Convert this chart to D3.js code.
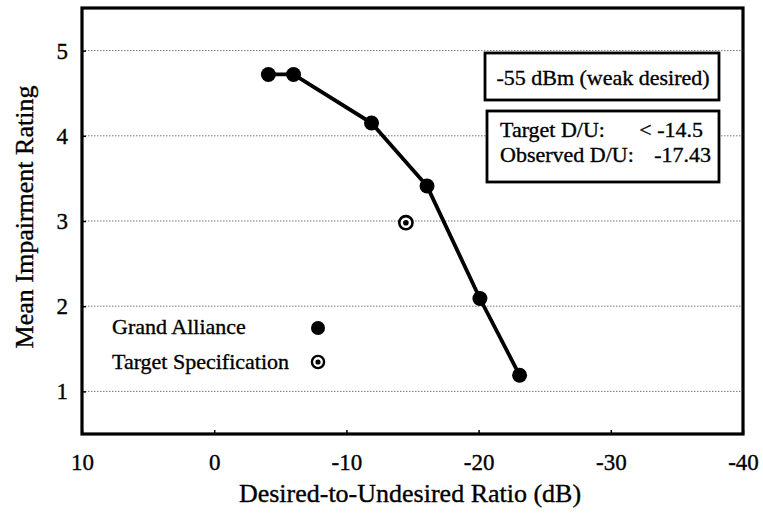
<!DOCTYPE html>
<html><head><meta charset="utf-8">
<script src="https://cdn.jsdelivr.net/npm/d3@7"></script>
<style>body{margin:0;background:#fff}svg{display:block}</style>
</head><body><svg id="c" width="763" height="513"></svg>
<script>
const duRatio = [-4.1, -6.0, -11.9, -16.1, -20.1, -23.1];
const rating = [4.72, 4.72, 4.15, 3.41, 2.09, 1.19];
const targetDU = [-14.5];
const targetRating = [2.98];
const xTicks = [10, 0, -10, -20, -30, -40];
const yTicks = [1, 2, 3, 4, 5];
const legendLabels = ["Grand Alliance", "Target Specification"];
const infoTitle = "-55 dBm (weak desired)";
const infoRows = [["Target D/U:", "< -14.5"], ["Observed D/U:", "-17.43"]];

const FONT = "Liberation Serif, Times New Roman, serif";
const TS = 0.35; // text stroke for scan-like weight
const svg = d3.select("#c").attr("font-family", FONT);
const L = 82, R = 743, T = 8, B = 434;
const x = d3.scaleLinear().domain([10, -40]).range([L, R]);
const y = d3.scaleLinear().domain([0.5, 5.5]).range([B, T]);

function txt(sel) { return sel.attr("fill", "#000").attr("stroke", "#000").attr("stroke-width", TS); }

// gridlines
svg.append("g").selectAll("line").data(yTicks).join("line")
  .attr("x1", L).attr("x2", R).attr("y1", d => y(d)).attr("y2", d => y(d))
  .attr("stroke", "#777").attr("stroke-width", 1).attr("stroke-dasharray", "1.5,1.5");

// axes
const xa = svg.append("g").attr("transform", `translate(0,${B})`)
  .call(d3.axisBottom(x).tickValues(xTicks).tickSize(-4).tickFormat(d => String(d)));
xa.attr("font-family", FONT);
xa.select(".domain").remove();
xa.selectAll("line").attr("stroke", "#000").attr("stroke-width", 1.5);
txt(xa.selectAll("text").attr("font-size", 23).attr("dy", null).attr("y", 36));

const ya = svg.append("g").attr("transform", `translate(${L},0)`)
  .call(d3.axisLeft(y).tickValues(yTicks).tickSize(-4).tickFormat(d => String(d)));
ya.attr("font-family", FONT);
ya.select(".domain").remove();
ya.selectAll("line").attr("stroke", "#000").attr("stroke-width", 1.5);
txt(ya.selectAll("text").attr("font-size", 23).attr("x", -14).attr("dy", "0.33em"));

// frame
svg.append("rect").attr("x", L).attr("y", T).attr("width", R - L).attr("height", B - T)
  .attr("fill", "none").attr("stroke", "#000").attr("stroke-width", 3.2);

// titles
txt(svg.append("text").attr("x", 410).attr("y", 502).attr("text-anchor", "middle")
  .attr("font-size", 26).text("Desired-to-Undesired Ratio (dB)"));
txt(svg.append("text").attr("transform", `translate(33,217) rotate(-90)`)
  .attr("text-anchor", "middle").attr("font-size", 26).text("Mean Impairment Rating"));

// series line + points
const pts = duRatio.map((d, i) => [d, rating[i]]);
svg.append("path").datum(pts)
  .attr("d", d3.line().x(d => x(d[0])).y(d => y(d[1])))
  .attr("fill", "none").attr("stroke", "#000").attr("stroke-width", 3.8);
svg.append("g").selectAll("circle").data(pts).join("circle")
  .attr("cx", d => x(d[0])).attr("cy", d => y(d[1])).attr("r", 7.5).attr("fill", "#000");

// target marker
function targetMark(g, cx, cy, s) {
  g.append("circle").attr("cx", cx).attr("cy", cy).attr("r", 6.6 * s).attr("fill", "#fff")
    .attr("stroke", "#000").attr("stroke-width", 2.6 * s);
  g.append("circle").attr("cx", cx).attr("cy", cy).attr("r", 2.8 * s).attr("fill", "#000");
}
targetDU.forEach((d, i) => targetMark(svg, x(d), y(targetRating[i]), 1));

// legend
const lg = svg.append("g");
txt(lg.append("text").attr("x", 112).attr("y", 334).attr("font-size", 22).text(legendLabels[0]));
lg.append("circle").attr("cx", 318).attr("cy", 328).attr("r", 7).attr("fill", "#000");
txt(lg.append("text").attr("x", 112).attr("y", 369).attr("font-size", 22).text(legendLabels[1]));
targetMark(lg, 318, 362, 0.92);

// info boxes
svg.append("rect").attr("x", 485).attr("y", 53).attr("width", 234).attr("height", 47)
  .attr("fill", "#fff").attr("stroke", "#000").attr("stroke-width", 2.8);
txt(svg.append("text").attr("x", 603).attr("y", 85).attr("text-anchor", "middle")
  .attr("font-size", 22).text(infoTitle));
svg.append("rect").attr("x", 487).attr("y", 111).attr("width", 232).attr("height", 71)
  .attr("fill", "#fff").attr("stroke", "#000").attr("stroke-width", 2.8);
const valueEnds = [703, 711];
infoRows.forEach((r, i) => {
  txt(svg.append("text").attr("x", 500).attr("y", 137 + i * 25).attr("font-size", 22).text(r[0]));
  txt(svg.append("text").attr("x", valueEnds[i]).attr("y", 137 + i * 25).attr("text-anchor", "end")
    .attr("font-size", 22).text(r[1]));
});
</script></body></html>
